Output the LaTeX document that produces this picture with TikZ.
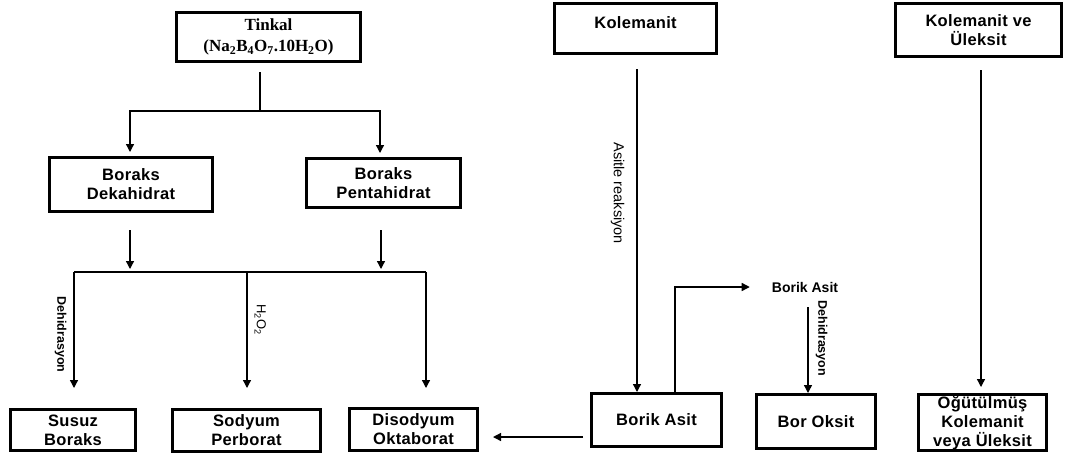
\documentclass[tikz,border=0pt]{standalone}
\usepackage{fontspec}
\setmainfont{Liberation Sans}
\newfontfamily\timesbf{Liberation Serif}
\usetikzlibrary{arrows.meta}

\begin{document}
\begin{tikzpicture}[
        x=1pt, y=-1pt,
        every node/.style={font=\bfseries\fontsize{16.5}{19}\selectfont\addfontfeature{LetterSpace=2}},
        product/.style={rectangle, draw, line width=3pt, align=center, inner sep=1pt},
        tag/.style={font=\bfseries\fontsize{14}{16}\selectfont, inner sep=3pt},
        note/.style={font=\bfseries\fontsize{12.5}{14}\selectfont, rotate=-90, inner sep=7pt},
        conn/.style={line width=1.3pt},
        arrow/.style={conn, -{Triangle[length=8pt, width=8pt]}}
    ]
        \useasboundingbox (0,0) rectangle (1081,456);
        % raw minerals
        \node[product, minimum width=184pt, minimum height=49pt, font=\timesbf\bfseries\fontsize{17}{21}\selectfont] (tinkal) at (268.5,37) {Tinkal\\(Na\textsubscript{2}B\textsubscript{4}O\textsubscript{7}.10H\textsubscript{2}O)};
        \node[product, minimum width=162pt, inner ysep=3pt, text height=21.5pt, text depth=22.5pt] (kolemanit) at (635.5,28.5) {Kolemanit};
        \node[product, minimum width=166pt, minimum height=53pt] (kolul) at (978.5,30) {Kolemanit ve\\Üleksit};
        % boraks
        \node[product, minimum width=163pt, minimum height=54pt] (deka) at (131,184.5) {Boraks\\Dekahidrat};
        \node[product, minimum width=154pt, minimum height=49pt] (penta) at (383.5,183) {Boraks\\Pentahidrat};
        % products
        \node[product, minimum width=125pt, minimum height=41pt] (susuz) at (73,430) {Susuz\\Boraks};
        \node[product, minimum width=148pt, minimum height=42pt] (sodyum) at (246.5,430.5) {Sodyum\\Perborat};
        \node[product, minimum width=128pt, minimum height=42pt] (disodyum) at (413.5,429.5) {Disodyum\\Oktaborat};
        \node[product, minimum width=130pt, minimum height=53pt] (borik) at (656.5,420) {Borik Asit};
        \node[product, minimum width=119pt, minimum height=54pt] (boroksit) at (816,421.5) {Bor Oksit};
        \node[product, minimum width=128pt, minimum height=56pt, inner sep=0pt] (ogut) at (982.5,422.5) {Öğütülmüş\\Kolemanit\\veya Üleksit};
        \node[tag] (borikacid) at (805,287) {Borik Asit};

        \coordinate (split) at (260,111);
        \coordinate (mleft) at (74,272);
        \coordinate (mmid) at (247,272);
        \coordinate (mright) at (426,272);

        \draw[conn, shorten <=9pt] (tinkal.south -| split) -- (split);
        \draw[arrow, shorten >=4pt] (split) -| ([xshift=-1pt]deka.north);
        \draw[arrow, shorten >=4pt] (split) -| ([xshift=-3.5pt]penta.north);

        \draw[arrow, shorten <=17pt, shorten >=3pt] ([xshift=-1pt]deka.south) -- ([xshift=-1pt]deka.south |- mmid);
        \draw[arrow, shorten <=21pt, shorten >=3pt] ([xshift=-2.5pt]penta.south) -- ([xshift=-2.5pt]penta.south |- mmid);
        \draw[conn] (mleft) -- (mright);
        \draw[arrow, shorten >=20pt] (mleft) -- node[note, pos=0.46, anchor=north] {Dehidrasyon} (mleft |- susuz.north);
        \draw[arrow, shorten >=20pt] (mmid) -- node[note, pos=0.35, anchor=south, font=\fontsize{13}{15}\selectfont] {H\textsubscript{2}O\textsubscript{2}} (mmid |- sodyum.north);
        \draw[arrow, shorten >=19pt] (mright) -- (mright |- disodyum.north);

        \draw[arrow, shorten <=14pt] ([xshift=1.5pt]kolemanit.south) -- node[note, pos=0.41, anchor=north, inner sep=12pt, font=\fontsize{14.5}{16}\selectfont] {Asitle reaksiyon} ([xshift=1.5pt]kolemanit.south |- borik.north);
        \draw[arrow, shorten >=19pt] ([xshift=18.5pt]borik.north) |- (borikacid.west);
        \draw[arrow, shorten <=12pt] ([xshift=3pt]borikacid.south) -- node[note, pos=0.44, anchor=south] {Dehidrasyon} ([xshift=3pt]borikacid.south |- boroksit.north);
        \draw[arrow, shorten <=7pt, shorten >=14pt] ([yshift=-17pt]borik.west) -- ([yshift=-17pt]borik.west -| disodyum.east);

        \draw[arrow, shorten <=12pt, shorten >=6pt] ([xshift=2.5pt]kolul.south) -- ([xshift=2.5pt]kolul.south |- ogut.north);
    \end{tikzpicture}
\end{document}
